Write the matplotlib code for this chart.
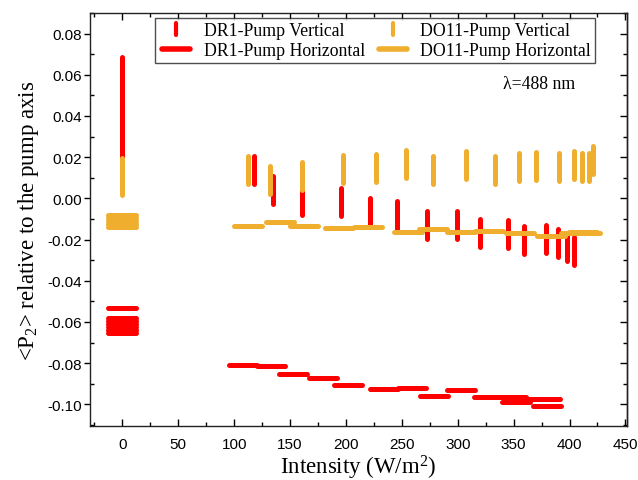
import matplotlib
matplotlib.use("Agg")
import matplotlib.pyplot as plt
from matplotlib.markers import MarkerStyle
from matplotlib.lines import Line2D
from matplotlib.ticker import MultipleLocator, FuncFormatter

# data
# DR1 - pump vertical
dr1_v_x = [0, 0, 0, 0, 0, 0, 117.9, 134.9, 161.1, 196.0, 221.3, 245.7, 272.5,
           299.3, 319.6, 344.9, 358.9, 379.2, 389.9, 397.6, 403.8]
dr1_v_y = [0.062, 0.053, 0.044, 0.035, 0.026, 0.017, 0.0140, 0.0039, -0.0012,
           -0.0018, -0.0068, -0.0081, -0.0127, -0.0127, -0.0168, -0.0171,
           -0.0202, -0.0198, -0.0216, -0.0235, -0.0255]

# DR1 - pump horizontal
dr1_h_x = [0, 0, 0, 0, 0, 0, 0, 107.9, 133.2, 152.5, 179.7, 201.6, 234.2,
           258.8, 278.5, 302.6, 326.7, 349.0, 351.8, 373.2, 378.6, 379.9]
dr1_h_y = [-0.0531, -0.0579, -0.0594, -0.0609, -0.0624, -0.0639, -0.0652,
           -0.0808, -0.0814, -0.0851, -0.0872, -0.0906, -0.0926, -0.0921,
           -0.0961, -0.0931, -0.0963, -0.0964, -0.0989, -0.0974, -0.0974,
           -0.1007]

# DO11 - pump vertical
do11_v_x = [0, 0, 0, 0, 112.5, 131.9, 161.1, 197.4, 227.3, 253.4, 277.8,
            307.7, 333.6, 354.4, 369.6, 390.2, 403.8, 411.3, 417.3, 420.8]
do11_v_y = [0.0129, 0.0115, 0.0100, 0.0085, 0.0138, 0.0090, 0.0108, 0.0143,
            0.0145, 0.0167, 0.0140, 0.0164, 0.0140, 0.0150, 0.0157, 0.0150,
            0.0164, 0.0154, 0.0154, 0.0186]

# DO11 - pump horizontal
do11_h_x = [0, 0, 0, 0, 0, 112.1, 141.3, 162.1, 193.6, 219.9, 255.2, 278.3,
            302.6, 327.6, 356.0, 383.6, 405.0, 412.5, 415.0]
do11_h_y = [-0.0083, -0.0097, -0.0111, -0.0125, -0.0139, -0.0136, -0.0115,
            -0.0133, -0.0144, -0.0139, -0.0165, -0.0149, -0.0165, -0.0157,
            -0.0170, -0.0182, -0.0167, -0.0163, -0.0168]

labels = ["DR1-Pump Vertical", "DR1-Pump Horizontal",
          "DO11-Pump Vertical", "DO11-Pump Horizontal"]

RED = "#FF0000"
ORANGE = "#F0AE2E"

plt.rcParams["mathtext.fontset"] = "custom"
plt.rcParams["mathtext.rm"] = "Liberation Serif"
plt.rcParams["mathtext.it"] = "Liberation Serif:italic"

fig = plt.figure(figsize=(6.38, 4.81), dpi=100)
ax = fig.add_axes([0.141, 0.1123, 0.841, 0.8587])

vbar = MarkerStyle("|", capstyle="round")
hbar = MarkerStyle("_", capstyle="round")
ms = 20
mew = 3.6

ax.plot(dr1_v_x, dr1_v_y, ls="none", marker=vbar, ms=ms, mew=mew, color=RED)
ax.plot(dr1_h_x, dr1_h_y, ls="none", marker=hbar, ms=ms, mew=mew, color=RED)
ax.plot(do11_v_x, do11_v_y, ls="none", marker=vbar, ms=ms, mew=mew, color=ORANGE)
ax.plot(do11_h_x, do11_h_y, ls="none", marker=hbar, ms=ms, mew=mew, color=ORANGE)

ax.set_xlim(-29, 451)
ax.set_ylim(-0.1105, 0.090)
ax.xaxis.set_major_locator(MultipleLocator(50))
ax.xaxis.set_minor_locator(MultipleLocator(25))
ax.yaxis.set_major_locator(MultipleLocator(0.02))
ax.yaxis.set_minor_locator(MultipleLocator(0.01))


def yfmt(v, pos):
    s = "%.2f" % v
    if s == "-0.00":
        s = "0.00"
    return s


ax.yaxis.set_major_formatter(FuncFormatter(yfmt))

for s in ax.spines.values():
    s.set_linewidth(1.0)
    s.set_color("#222222")

ax.tick_params(axis="x", which="both", direction="in", top=True, bottom=True,
               labelsize=11, pad=8)
ax.tick_params(axis="x", which="major", length=5, width=1)
ax.tick_params(axis="x", which="minor", length=3, width=1)
ax.tick_params(axis="y", which="major", direction="out", left=True, right=False,
               length=4, width=1, labelsize=11, pad=2)
ax.tick_params(axis="y", which="minor", direction="in", left=True, right=False,
               length=3, width=1)
# right side ticks point inward
ax2 = ax.secondary_yaxis("right")
ax2.yaxis.set_major_locator(MultipleLocator(0.02))
ax2.yaxis.set_minor_locator(MultipleLocator(0.01))
ax2.tick_params(which="both", direction="in", labelright=False, width=1)
ax2.tick_params(which="major", length=5)
ax2.tick_params(which="minor", length=3)
ax2.spines["right"].set_linewidth(1.0)
ax2.spines["right"].set_color("#222222")

for lab in ax.get_xticklabels() + ax.get_yticklabels():
    lab.set_fontfamily("Liberation Sans")

ax.set_xlabel("Intensity (W/m$^2$)", fontfamily="Liberation Serif",
              fontsize=16.5, labelpad=1)
ax.set_ylabel("<P$_2$> relative to the pump axis", fontfamily="Liberation Serif",
              fontsize=16.5, labelpad=4)

# legend with custom handles (vertical symbols are short in the original)
handles = [
    Line2D([], [], ls="none", marker=vbar, ms=8, mew=3, color=RED),
    Line2D([], [], ls="none", marker=hbar, ms=20, mew=4, color=RED),
    Line2D([], [], ls="none", marker=vbar, ms=8, mew=3, color=ORANGE),
    Line2D([], [], ls="none", marker=hbar, ms=20, mew=4, color=ORANGE),
]
leg = ax.legend(handles, labels, ncol=2, loc="upper left",
                bbox_to_anchor=(0.121, 0.988), frameon=True, fancybox=False,
                prop={"family": "Liberation Serif", "size": 12.75},
                handlelength=1.9, handletextpad=0.6, columnspacing=0.63,
                borderpad=0.25, labelspacing=0.15, borderaxespad=0)
leg.get_frame().set_edgecolor("#222222")
leg.get_frame().set_linewidth(1.0)

ax.text(0.77, 0.828, "λ=488 nm", transform=ax.transAxes, va="center",
        ha="left", fontfamily="Liberation Serif", fontsize=12.75)

fig.savefig("out.png", dpi=100)
